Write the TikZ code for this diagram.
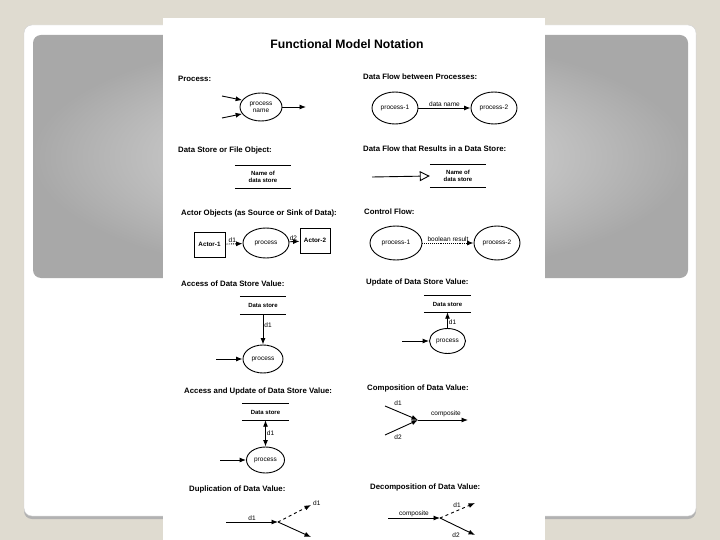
\documentclass[tikz,border=0pt]{standalone}
\usepackage{fontspec}
\setmainfont{Liberation Sans}
\usetikzlibrary{shapes.geometric,arrows.meta}
\definecolor{bgbeige}{HTML}{DFDBD0}
\begin{document}
\begin{tikzpicture}[x=1pt,y=-1pt,
 tip/.tip={Latex[length=6.5pt,width=5pt]},
 proc/.style={draw,ellipse,line width=0.9pt,inner sep=0pt,font=\fontsize{6.5}{7}\selectfont,align=center},
 arr/.style={line width=0.9pt,-tip},
 store/.style={inner sep=0pt,font=\bfseries\fontsize{6}{7}\selectfont,align=center},
 head/.style={anchor=west,inner sep=0pt,font=\bfseries\fontsize{7.8}{9}\selectfont},
 lbl/.style={font=\fontsize{6.5}{7.5}\selectfont,inner sep=1pt},
 actor/.style={draw,line width=0.9pt,font=\bfseries\fontsize{6.3}{7}\selectfont,inner sep=0pt},
 rule/.style={line width=1pt}]
\useasboundingbox (0,0) rectangle (720,540);
% slide background
\fill[bgbeige] (0,0) rectangle (720,540);
\fill[gray!60,rounded corners=8pt] (24,27) rectangle (696,519);
\fill[white,rounded corners=8pt] (24,25) rectangle (696,516);
\draw[gray!35,rounded corners=8pt] (24,25) rectangle (696,516);
\shade[rounded corners=8pt,inner color=gray!20,outer color=gray!68] (33,35) rectangle (688,278);
% scanned page
\fill[white] (163,18) rectangle (545,540);
\begin{scope}
\clip (163,18) rectangle (545,540);
\node[inner sep=0pt,font=\bfseries\fontsize{12.2}{13}\selectfont] (title) at (347,44) {Functional Model Notation};

% Process
\node[head] (h1) at (178,79) {Process:};
\node[proc,minimum width=42pt,minimum height=28pt] (p0) at (261,107) {process\\name};
\coordinate (i1) at (222,96);
\coordinate (i2) at (222,118);
\coordinate (o1) at (306,107);
\draw[arr] (i1) -- (p0.160);
\draw[arr] (i2) -- (p0.200);
\draw[arr] (p0.east) -- (o1);

% Data flow between processes
\node[head] (h2) at (363,77) {Data Flow between Processes:};
\node[proc,minimum width=46pt,minimum height=32pt] (p1) at (395,108) {process-1};
\node[proc,minimum width=46pt,minimum height=32pt] (p2) at (494,108) {process-2};
\draw[arr] (p1) -- node[lbl,above] {data name} (p2);

% Data store
\node[head] (h3) at (178,150) {Data Store or File Object:};
\node[store,minimum width=56pt,minimum height=22pt] (ds1) at (263,177) {Name of\\data store};
\draw[rule] (ds1.north west) -- (ds1.north east);
\draw[rule] (ds1.south west) -- (ds1.south east);

% Data flow to data store
\node[head] (h4) at (363,149) {Data Flow that Results in a Data Store:};
\node[store,minimum width=56pt,minimum height=23pt] (ds2) at (458,176) {Name of\\data store};
\draw[rule] (ds2.north west) -- (ds2.north east);
\draw[rule] (ds2.south west) -- (ds2.south east);
\coordinate (f1) at (372,177);
\draw[line width=0.9pt,-{Triangle[open,length=10pt,width=10pt]}] (f1) -- (ds2.west);

% Actors
\node[head] (h5) at (181,213) {Actor Objects (as Source or Sink of Data):};
\node[actor,minimum width=31pt,minimum height=25pt] (a1) at (209.5,244.5) {Actor-1};
\node[proc,minimum width=46pt,minimum height=30pt] (pa) at (266,243) {process};
\node[actor,minimum width=30pt,minimum height=25pt] (a2) at (315,240.5) {Actor-2};
\draw[arr,densely dotted] (a1) -- node[lbl,above,pos=0.4] {d1} (pa);
\draw[arr] (pa) -- node[lbl,above,pos=0.4] {d2} (a2);

% Control flow
\node[head] (h6) at (364,212) {Control Flow:};
\node[proc,minimum width=52pt,minimum height=34pt] (q1) at (396,243) {process-1};
\node[proc,minimum width=46pt,minimum height=34pt] (q2) at (497,243) {process-2};
\draw[arr,densely dotted] (q1) -- node[lbl,above] {boolean result} (q2);

% Access of data store value
\node[head] (h7) at (181,284) {Access of Data Store Value:};
\node[store,minimum width=46pt,minimum height=17pt] (ds3) at (263,305.5) {Data store};
\draw[rule] (ds3.north west) -- (ds3.north east);
\draw[rule] (ds3.south west) -- (ds3.south east);
\node[proc,minimum width=40pt,minimum height=28pt] (pr3) at (263,359) {process};
\draw[arr] (ds3.south) -- node[lbl,right,pos=0.35] {d1} (pr3.north);
\coordinate (i3) at (216,359);
\draw[arr] (i3) -- (pr3.west);

% Update of data store value
\node[head] (h8) at (366,282) {Update of Data Store Value:};
\node[store,minimum width=47pt,minimum height=16pt] (ds4) at (447.5,304) {Data store};
\draw[rule] (ds4.north west) -- (ds4.north east);
\draw[rule] (ds4.south west) -- (ds4.south east);
\node[proc,minimum width=36pt,minimum height=25pt] (pr4) at (447.5,341) {process};
\draw[arr] (pr4.north) -- node[lbl,right,pos=0.35] {d1} (ds4.south);
\coordinate (i4) at (402,341);
\draw[arr] (i4) -- (pr4.west);

% Access and update
\node[head] (h9) at (184,391) {Access and Update of Data Store Value:};
\node[store,minimum width=47pt,minimum height=16pt] (ds5) at (265.5,412) {Data store};
\draw[rule] (ds5.north west) -- (ds5.north east);
\draw[rule] (ds5.south west) -- (ds5.south east);
\node[proc,minimum width=38pt,minimum height=26pt] (pr5) at (265.5,460) {process};
\draw[line width=0.9pt,tip-tip] (ds5.south) -- node[lbl,right,pos=0.5] {d1} (pr5.north);
\coordinate (i5) at (220,460);
\draw[arr] (i5) -- (pr5.west);

% Composition
\node[head] (h10) at (367,388) {Composition of Data Value:};
\coordinate (j1) at (418,420);
\coordinate (c1) at (385,406);
\coordinate (c2) at (385,435);
\coordinate (c3) at (468,420);
\draw[arr] (c1) -- (j1);
\draw[arr] (c2) -- (j1);
\draw[arr] (j1) -- (c3);
\node[lbl] (l1) at (398,403) {d1};
\node[lbl] (l2) at (398,437) {d2};
\node[lbl] (l3) at (446,414) {composite};

% Duplication
\node[head] (h11) at (189,489) {Duplication of Data Value:};
\coordinate (j2) at (278,522);
\coordinate (d0) at (226,522);
\coordinate (d1) at (311,505);
\coordinate (d2) at (311,537);
\draw[arr] (d0) -- node[lbl,above] {d1} (j2);
\draw[arr,dashed] (j2) -- (d1);
\draw[arr] (j2) -- (d2);
\node[lbl,anchor=west] (l4) at (312,503) {d1};

% Decomposition
\node[head] (h12) at (370,487) {Decomposition of Data Value:};
\coordinate (j3) at (440,518);
\coordinate (e0) at (388,518);
\coordinate (e1) at (475,503);
\coordinate (e2) at (475,535);
\draw[arr] (e0) -- node[lbl,above] {composite} (j3);
\draw[arr,dashed] (j3) -- (e1);
\draw[arr] (j3) -- (e2);
\node[lbl] (l5) at (457,505) {d1};
\node[lbl] (l6) at (456,535) {d2};
\end{scope}
\end{tikzpicture}
\end{document}
